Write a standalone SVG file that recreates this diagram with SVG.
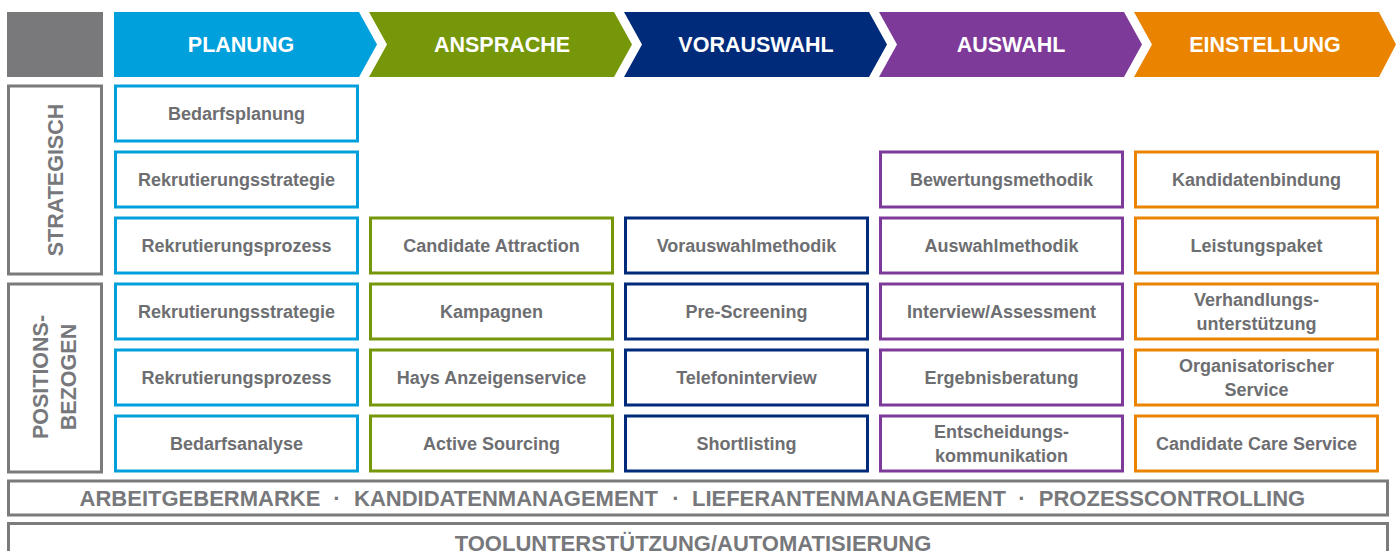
<svg xmlns="http://www.w3.org/2000/svg" width="1397" height="551" viewBox="0 0 1397 551">
  <style>
    .hdr { font-family: "Liberation Sans", Arial, sans-serif; font-weight: bold; font-size: 21.5px; fill: #ffffff; text-anchor: middle; dominant-baseline: central; }
    .box { fill: #ffffff; stroke-width: 3; }
    .lbl { font-family: "Liberation Sans", Arial, sans-serif; font-weight: bold; font-size: 18px; fill: #6d6e71; text-anchor: middle; dominant-baseline: central; }
    .side { fill: #ffffff; stroke: #7a7b7d; stroke-width: 3; }
    .sidetxt { font-family: "Liberation Sans", Arial, sans-serif; font-weight: bold; font-size: 21.5px; fill: #77787b; text-anchor: middle; dominant-baseline: central; }
    .bar { fill: #ffffff; stroke: #7a7b7d; stroke-width: 3; }
    .bartxt { font-family: "Liberation Sans", Arial, sans-serif; font-weight: bold; font-size: 22px; fill: #77787b; text-anchor: middle; dominant-baseline: central; }
    .c0 { stroke: #00a0dc; }
    .c1 { stroke: #76970a; }
    .c2 { stroke: #002a7a; }
    .c3 { stroke: #7e3a99; }
    .c4 { stroke: #ea8400; }
  </style>

  <!-- corner block -->
  <rect id="corner" x="7" y="12" width="96" height="65" fill="#79797b"/>

  <!-- phase chevrons -->
  <g id="phase-planung">
    <polygon points="114,12 359,12 377,44.5 359,77 114,77" fill="#00a0dc"/>
    <text class="hdr" x="241" y="45">PLANUNG</text>
  </g>
  <g id="phase-ansprache">
    <polygon points="369,12 614,12 632,44.5 614,77 369,77 387,44.5" fill="#76970a"/>
    <text class="hdr" x="502" y="45">ANSPRACHE</text>
  </g>
  <g id="phase-vorauswahl">
    <polygon points="624,12 869,12 887,44.5 869,77 624,77 642,44.5" fill="#002a7a"/>
    <text class="hdr" x="756" y="45">VORAUSWAHL</text>
  </g>
  <g id="phase-auswahl">
    <polygon points="879,12 1124,12 1142,44.5 1124,77 879,77 897,44.5" fill="#7e3a99"/>
    <text class="hdr" x="1011" y="45">AUSWAHL</text>
  </g>
  <g id="phase-einstellung">
    <polygon points="1134,12 1379,12 1396,44.5 1379,77 1134,77 1152,44.5" fill="#ea8400"/>
    <text class="hdr" x="1265" y="45">EINSTELLUNG</text>
  </g>

  <!-- row group labels -->
  <g id="side-strategisch">
    <rect class="side" x="8.5" y="86" width="93" height="188"/>
    <text class="sidetxt" transform="translate(56,180) rotate(-90)">STRATEGISCH</text>
  </g>
  <g id="side-positionsbezogen">
    <rect class="side" x="8.5" y="284" width="93" height="188"/>
    <text class="sidetxt" transform="translate(41,377) rotate(-90)">POSITIONS-</text>
    <text class="sidetxt" transform="translate(69,377) rotate(-90)">BEZOGEN</text>
  </g>

  <!-- PLANUNG column -->
  <g id="p1"><rect class="box c0" x="115.5" y="86" width="242" height="55"/><text class="lbl" x="236.5" y="113.5">Bedarfsplanung</text></g>
  <g id="p2"><rect class="box c0" x="115.5" y="152" width="242" height="55"/><text class="lbl" x="236.5" y="179.5">Rekrutierungsstrategie</text></g>
  <g id="p3"><rect class="box c0" x="115.5" y="218" width="242" height="55"/><text class="lbl" x="236.5" y="245.5">Rekrutierungsprozess</text></g>
  <g id="p4"><rect class="box c0" x="115.5" y="284" width="242" height="55"/><text class="lbl" x="236.5" y="311.5">Rekrutierungsstrategie</text></g>
  <g id="p5"><rect class="box c0" x="115.5" y="350" width="242" height="55"/><text class="lbl" x="236.5" y="377.5">Rekrutierungsprozess</text></g>
  <g id="p6"><rect class="box c0" x="115.5" y="416" width="242" height="55"/><text class="lbl" x="236.5" y="443.5">Bedarfsanalyse</text></g>

  <!-- ANSPRACHE column -->
  <g id="a3"><rect class="box c1" x="370.5" y="218" width="242" height="55"/><text class="lbl" x="491.5" y="245.5">Candidate Attraction</text></g>
  <g id="a4"><rect class="box c1" x="370.5" y="284" width="242" height="55"/><text class="lbl" x="491.5" y="311.5">Kampagnen</text></g>
  <g id="a5"><rect class="box c1" x="370.5" y="350" width="242" height="55"/><text class="lbl" x="491.5" y="377.5">Hays Anzeigenservice</text></g>
  <g id="a6"><rect class="box c1" x="370.5" y="416" width="242" height="55"/><text class="lbl" x="491.5" y="443.5">Active Sourcing</text></g>

  <!-- VORAUSWAHL column -->
  <g id="v3"><rect class="box c2" x="625.5" y="218" width="242" height="55"/><text class="lbl" x="746.5" y="245.5">Vorauswahlmethodik</text></g>
  <g id="v4"><rect class="box c2" x="625.5" y="284" width="242" height="55"/><text class="lbl" x="746.5" y="311.5">Pre-Screening</text></g>
  <g id="v5"><rect class="box c2" x="625.5" y="350" width="242" height="55"/><text class="lbl" x="746.5" y="377.5">Telefoninterview</text></g>
  <g id="v6"><rect class="box c2" x="625.5" y="416" width="242" height="55"/><text class="lbl" x="746.5" y="443.5">Shortlisting</text></g>

  <!-- AUSWAHL column -->
  <g id="w2"><rect class="box c3" x="880.5" y="152" width="242" height="55"/><text class="lbl" x="1001.5" y="179.5">Bewertungsmethodik</text></g>
  <g id="w3"><rect class="box c3" x="880.5" y="218" width="242" height="55"/><text class="lbl" x="1001.5" y="245.5">Auswahlmethodik</text></g>
  <g id="w4"><rect class="box c3" x="880.5" y="284" width="242" height="55"/><text class="lbl" x="1001.5" y="311.5">Interview/Assessment</text></g>
  <g id="w5"><rect class="box c3" x="880.5" y="350" width="242" height="55"/><text class="lbl" x="1001.5" y="377.5">Ergebnisberatung</text></g>
  <g id="w6"><rect class="box c3" x="880.5" y="416" width="242" height="55"/><text class="lbl" x="1001.5" y="432">Entscheidungs-</text><text class="lbl" x="1001.5" y="456">kommunikation</text></g>

  <!-- EINSTELLUNG column -->
  <g id="e2"><rect class="box c4" x="1135.5" y="152" width="242" height="55"/><text class="lbl" x="1256.5" y="179.5">Kandidatenbindung</text></g>
  <g id="e3"><rect class="box c4" x="1135.5" y="218" width="242" height="55"/><text class="lbl" x="1256.5" y="245.5">Leistungspaket</text></g>
  <g id="e4"><rect class="box c4" x="1135.5" y="284" width="242" height="55"/><text class="lbl" x="1256.5" y="300">Verhandlungs-</text><text class="lbl" x="1256.5" y="324">unterstützung</text></g>
  <g id="e5"><rect class="box c4" x="1135.5" y="350" width="242" height="55"/><text class="lbl" x="1256.5" y="366">Organisatorischer</text><text class="lbl" x="1256.5" y="390">Service</text></g>
  <g id="e6"><rect class="box c4" x="1135.5" y="416" width="242" height="55"/><text class="lbl" x="1256.5" y="443.5">Candidate Care Service</text></g>

  <!-- cross-cutting bars -->
  <g id="bar-themes">
    <rect class="bar" x="8.5" y="481" width="1379" height="34"/>
    <text class="bartxt" y="498"><tspan x="200">ARBEITGEBERMARKE</tspan><tspan x="337"> · </tspan><tspan x="506">KANDIDATENMANAGEMENT</tspan><tspan x="676"> · </tspan><tspan x="849">LIEFERANTENMANAGEMENT</tspan><tspan x="1022"> · </tspan><tspan x="1172">PROZESSCONTROLLING</tspan></text>
  </g>
  <g id="bar-tools">
    <rect class="bar" x="8.5" y="523.5" width="1379" height="40"/>
    <text class="bartxt" x="693" y="543">TOOLUNTERSTÜTZUNG/AUTOMATISIERUNG</text>
  </g>

  <!-- connectors: none in this layout -->
  <g id="connectors"/>
</svg>
